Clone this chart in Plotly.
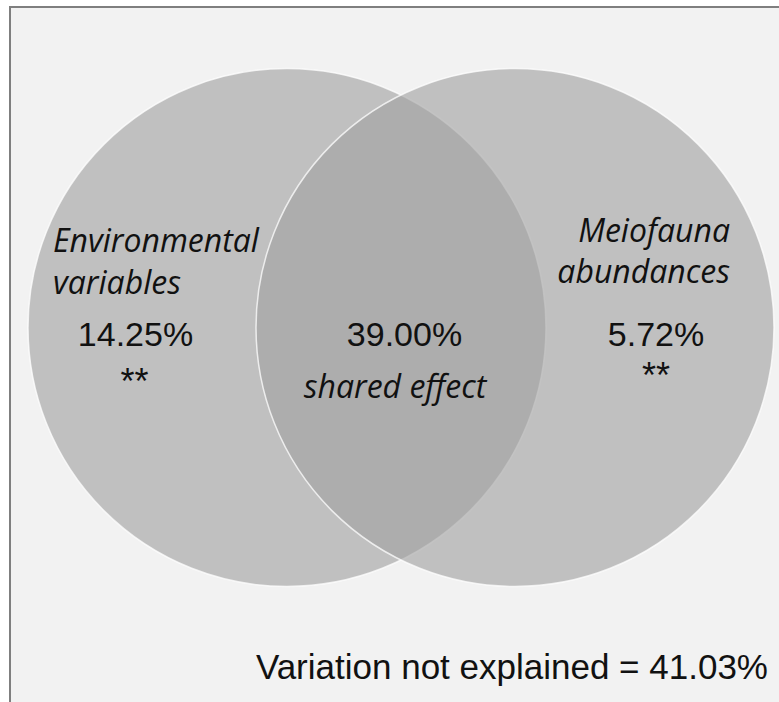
import plotly.graph_objects as go

# ---- data ----
set_names = ["Environmental variables", "Meiofauna abundances"]
set_label_lines = [["Environmental", "variables"], ["Meiofauna", "abundances"]]
unique_pct = [14.25, 5.72]          # unique fractions (left, right)
shared_pct = 39.00                  # shared fraction
unexplained_pct = 41.03
significance = ["**", "**"]
shared_label = "shared effect"

# ---- geometry (pixel-like axis units) ----
W, H = 779, 702
cy = 327.5
r = 259
cx = [287, 515]
dy = 3  # vertical text nudge

fig = go.Figure()

shapes = []
# panel background with border
shapes.append(dict(type="rect", xref="x", yref="y", x0=10, x1=W + 20, y0=7, y1=H + 20,
                   fillcolor="#f2f2f2", line=dict(color="#7f7f7f", width=2), layer="below"))
for c in cx:
    shapes.append(dict(type="circle", xref="x", yref="y", x0=c - r, x1=c + r, y0=cy - r, y1=cy + r,
                       fillcolor="rgba(161,161,161,0.62)",
                       line=dict(color="rgba(255,255,255,0.75)", width=1.5), layer="below"))

pct_font = dict(family="Liberation Sans, Arial, sans-serif", size=34, color="#111111")
star_font = dict(family="Liberation Sans, Arial, sans-serif", size=36, color="#111111")
lab_font = dict(family="Open Sans, sans-serif", size=32, color="#111111", style="italic")

# set labels
fig.add_trace(go.Scatter(x=[53, 53], y=[241 + dy, 283 + dy], mode="text",
                         text=set_label_lines[0], textposition="middle right",
                         textfont=lab_font, hoverinfo="skip", showlegend=False))
fig.add_trace(go.Scatter(x=[730, 730], y=[230.5 + dy, 271.5 + dy], mode="text",
                         text=set_label_lines[1], textposition="middle left",
                         textfont=lab_font, hoverinfo="skip", showlegend=False))
# unique percentages
fig.add_trace(go.Scatter(x=[135.5, 656], y=[334.5 + dy, 334.5 + dy], mode="text",
                         text=[f"{v:.2f}%" for v in unique_pct], textposition="middle center",
                         textfont=pct_font, hoverinfo="skip", showlegend=False))
# significance stars
fig.add_trace(go.Scatter(x=[134.5, 656], y=[382 + dy, 376 + dy], mode="text",
                         text=significance, textposition="middle center",
                         textfont=star_font, hoverinfo="skip", showlegend=False))
# shared
fig.add_trace(go.Scatter(x=[404.5], y=[334.5 + dy], mode="text",
                         text=[f"{shared_pct:.2f}%"], textposition="middle center",
                         textfont=pct_font, hoverinfo="skip", showlegend=False))
fig.add_trace(go.Scatter(x=[395], y=[387 + dy], mode="text",
                         text=[shared_label], textposition="middle center",
                         textfont=lab_font, hoverinfo="skip", showlegend=False))
# unexplained
fig.add_trace(go.Scatter(x=[768], y=[667 + dy], mode="text",
                         text=[f"Variation not explained = {unexplained_pct:.2f}%"],
                         textposition="middle left",
                         textfont=dict(family="Liberation Sans, Arial, sans-serif", size=35, color="#111111"),
                         hoverinfo="skip", showlegend=False))

fig.update_layout(
    width=W, height=H,
    margin=dict(l=0, r=0, t=0, b=0),
    paper_bgcolor="white", plot_bgcolor="white",
    shapes=shapes,
    xaxis=dict(range=[0, W], visible=False, fixedrange=True),
    yaxis=dict(range=[H, 0], visible=False, fixedrange=True),
    showlegend=False,
)

fig.write_html("out.html", config={"displayModeBar": False},
               post_script="document.body.style.margin='0';document.body.style.overflow='hidden';")
